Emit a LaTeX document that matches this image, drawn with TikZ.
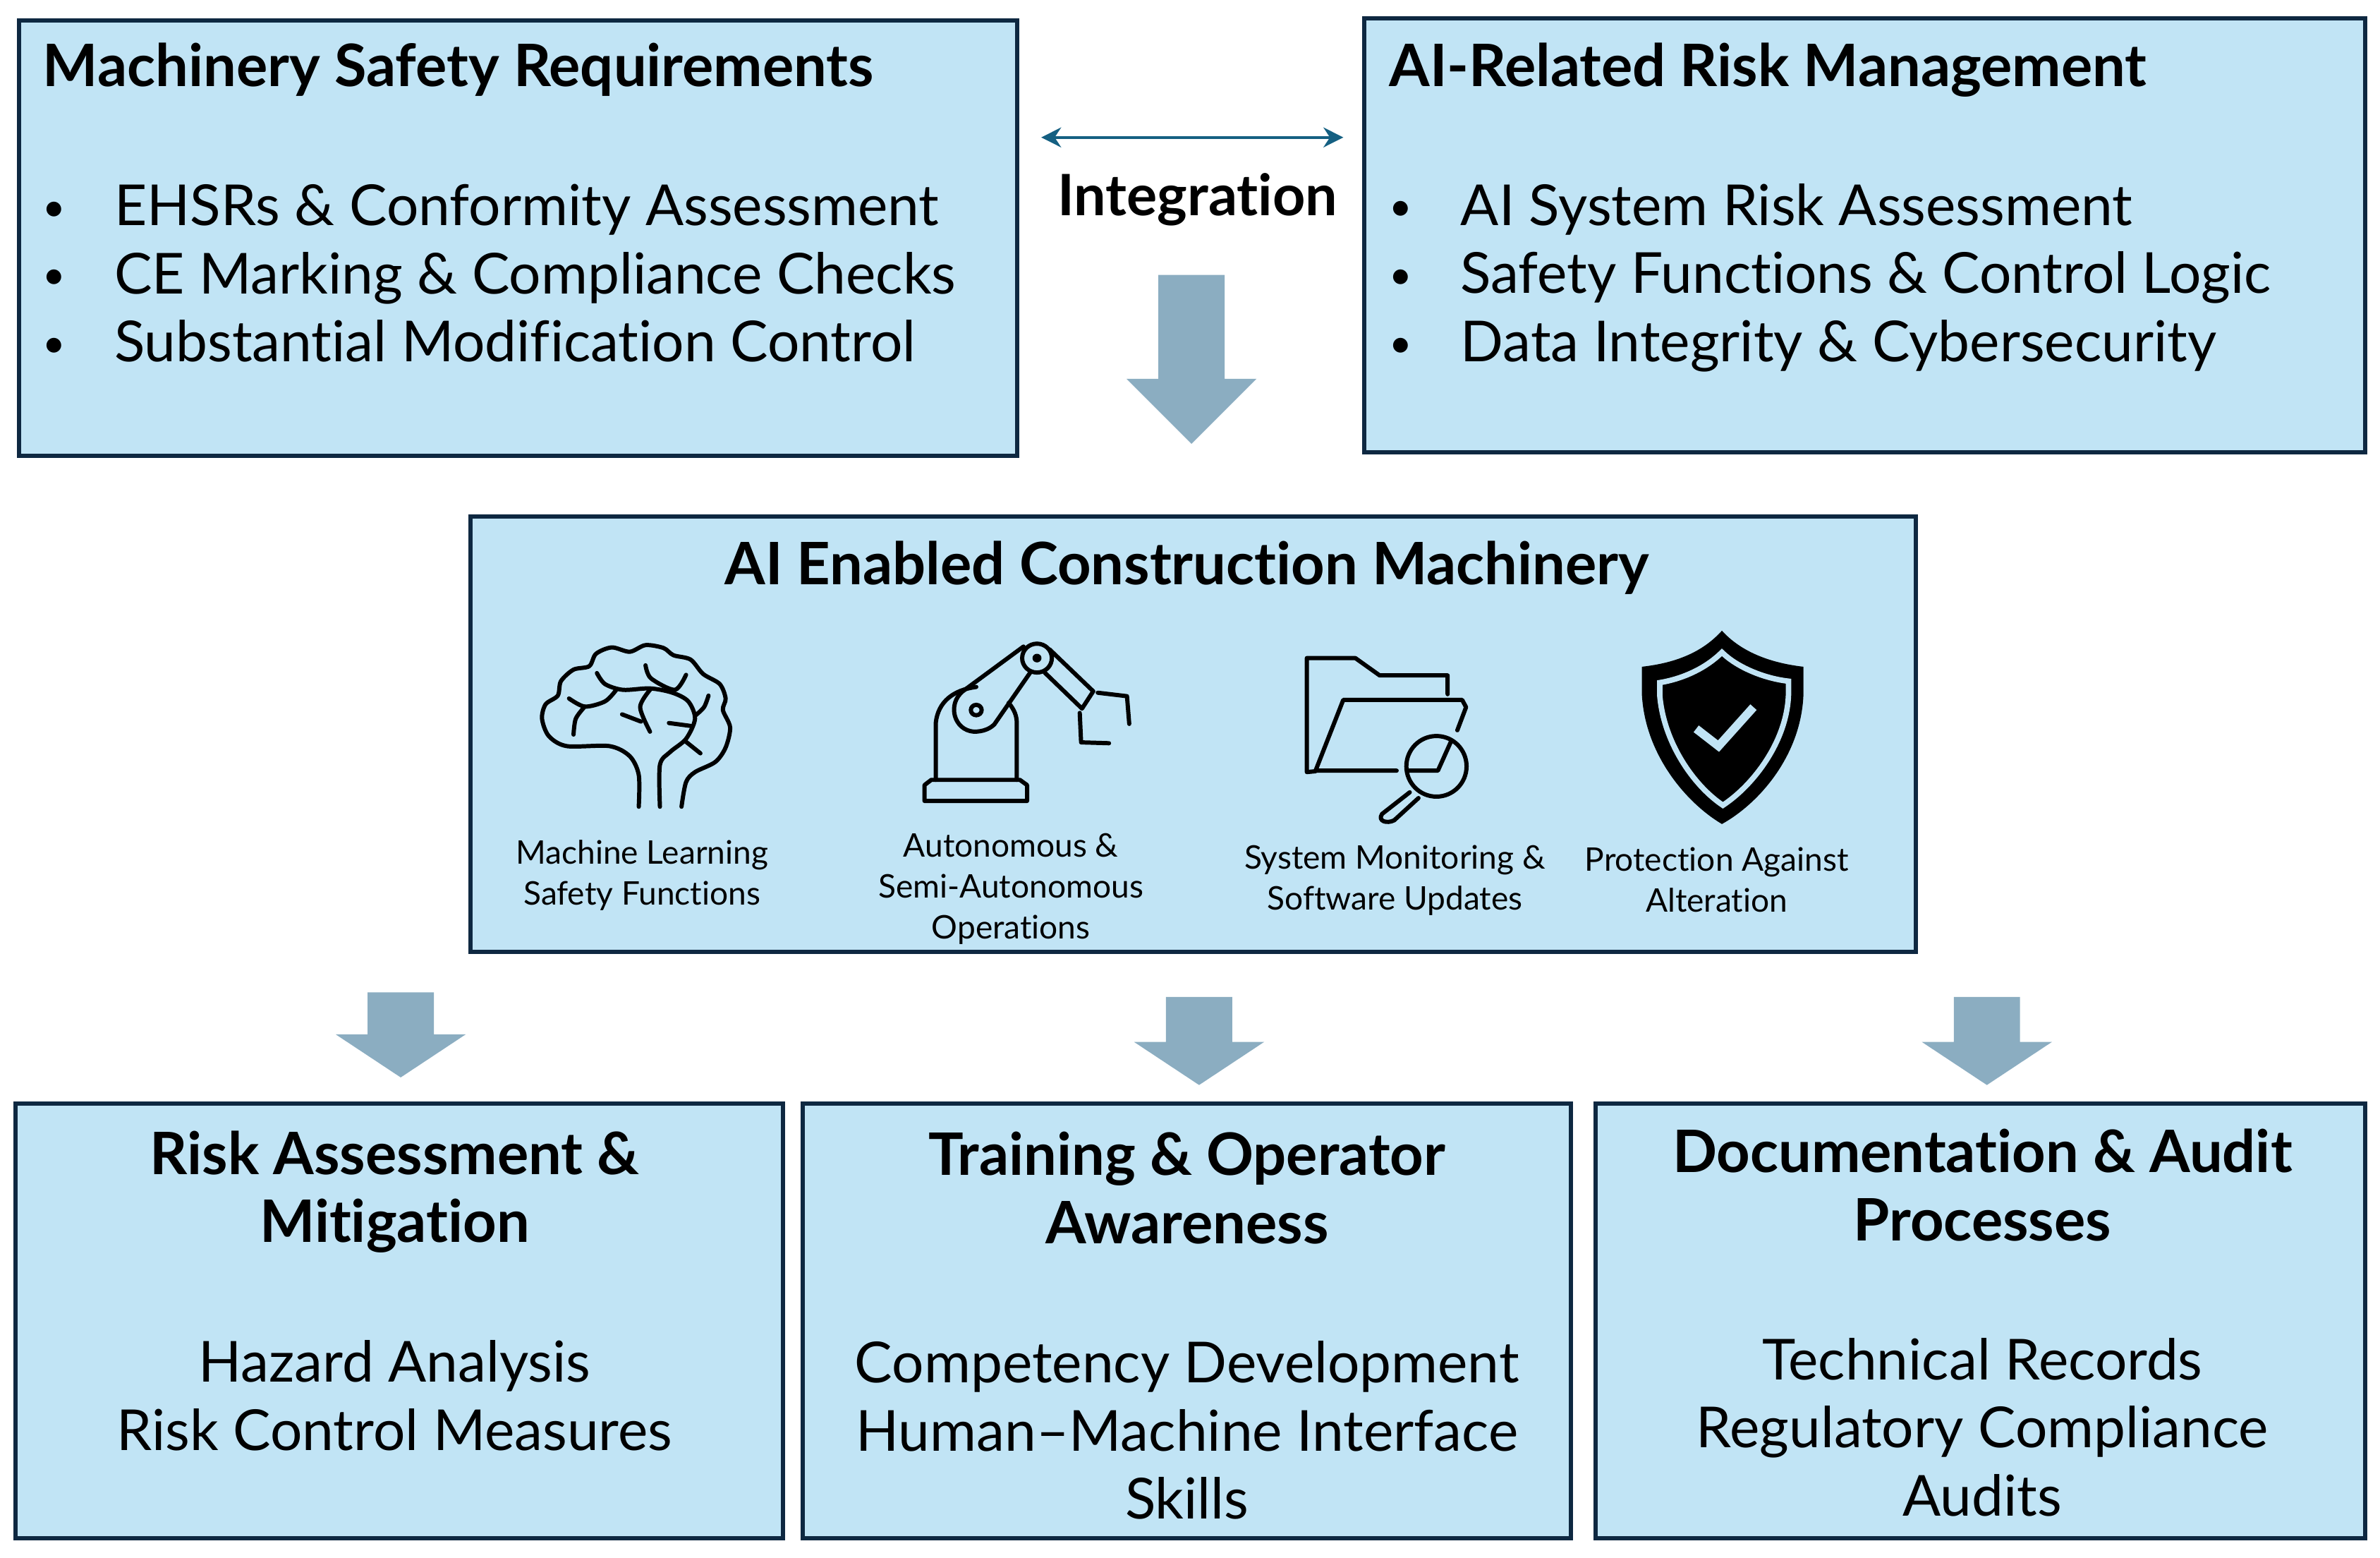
\documentclass[tikz,border=0pt]{standalone}
\usepackage{fontspec}
\setmainfont{Lato}[Ligatures=NoCommon]
\usetikzlibrary{shapes.arrows, arrows.meta, positioning}
\definecolor{boxblue}{HTML}{C1E4F5}
\definecolor{boxnavy}{HTML}{0E2841}
\definecolor{flowblue}{HTML}{8BADC1}
\definecolor{linkblue}{HTML}{156082}
\newcommand{\un}{0.02152cm}
\newcommand{\bul}{\makebox[47\dimexpr\un\relax][l]{\raisebox{1.8pt}{\fontsize{16}{16}\selectfont\textbullet}}}
\tikzset{
  panel/.style={draw=boxnavy, fill=boxblue, line width=1.7pt, inner sep=0pt},
  headtxt/.style={inner sep=0pt, align=center, font=\fontsize{23.6}{27.5}\selectfont\bfseries},
  bodytxt/.style={inner sep=0pt, font=\fontsize{22.8}{27.5}\selectfont},
  smalltxt/.style={inner sep=0pt, align=center, font=\fontsize{13.1}{16.5}\selectfont},
  flowarrow/.style={shape=single arrow, fill=flowblue, inner sep=0pt, rotate=-90, anchor=tip,
    text height=43*\un, text depth=0pt, single arrow head extend=21*\un},
  iconline/.style={draw=black, line width=1.7pt, line cap=round, line join=round}
}

\begin{document}
\begin{tikzpicture}[x=\un, y=-\un]
  \useasboundingbox (0,0) rectangle (1568,1026);

  \node[panel, minimum width=657.5*\un, minimum height=286.5*\un] (msr) at (341.25,156.75) {};
  \node[panel, minimum width=659*\un, minimum height=286*\un] (air) at (1228.5,155) {};
  \node[panel, minimum width=952*\un, minimum height=287*\un] (core) at (786,483.5) {};
  \node[panel, minimum width=506*\un, minimum height=286*\un] (risk) at (263,870) {};
  \node[panel, minimum width=506*\un, minimum height=286*\un] (train) at (782,870) {};
  \node[panel, minimum width=507*\un, minimum height=286*\un] (docs) at (1304.5,870) {};

  \node[headtxt, anchor=west] (msrhead) at (28,46) {Machinery Safety Requirements};
  \node[bodytxt, anchor=west, align=left] (msrlist) at (28,180) {\bul EHSRs \& Conformity Assessment\\ \bul CE Marking \& Compliance Checks\\ \bul Substantial Modification Control};
  \node[headtxt, anchor=west] (airhead) at (915,46) {AI-Related Risk Management};
  \node[bodytxt, anchor=west, align=left] (airlist) at (915,183) {\bul AI System Risk Assessment\\ \bul Safety Functions \& Control Logic\\ \bul Data Integrity \& Cybersecurity};

  \node[headtxt, font=\fontsize{23}{27.5}\selectfont\bfseries] (inttxt) at (789,131.5) {Integration};
  \coordinate (intl) at (686,90.5);
  \coordinate (intr) at (885,90.5);
  \draw[{Stealth[length=8pt,width=8pt]}-{Stealth[length=8pt,width=8pt]}, draw=linkblue, line width=1.2pt] (intl) -- (intr);

  \node[flowarrow, minimum height=111.3*\un, single arrow tip angle=90] (flowtop) at (785,292.8) {};
  \node[flowarrow, minimum height=56*\un, single arrow tip angle=113] (flowrisk) at (264,710) {};
  \node[flowarrow, minimum height=58*\un, single arrow tip angle=113] (flowtrain) at (790,715) {};
  \node[flowarrow, minimum height=58*\un, single arrow tip angle=113] (flowdocs) at (1309,715) {};

  \node[headtxt] (corehead) at (782,374) {AI Enabled Construction Machinery};
  \node[smalltxt] (mltxt) at (423,576.5) {Machine Learning\\Safety Functions};
  \node[smalltxt] (autotxt) at (666,585.5) {Autonomous \&\\Semi-Autonomous\\Operations};
  \node[smalltxt] (montxt) at (919,580) {System Monitoring \&\\Software Updates};
  \node[smalltxt] (prottxt) at (1131,579.5) {Protection Against\\Alteration};

  \node[headtxt] (riskhead) at (260,785) {Risk Assessment \&\\Mitigation};
  \node[bodytxt, align=center] (risklist) at (260,919) {Hazard Analysis\\Risk Control Measures};
  \node[headtxt] (trainhead) at (782,782.5) {Training \& Operator\\Awareness};
  \node[bodytxt, align=center] (trainlist) at (782,942) {Competency Development\\Human--Machine Interface\\Skills};
  \node[headtxt] (docshead) at (1306,780.5) {Documentation \& Audit\\Processes};
  \node[bodytxt, align=center] (docslist) at (1306,940) {Technical Records\\Regulatory Compliance\\Audits};

  \begin{scope}[shift={(306.7,334.6)}, x=0.006379cm, y=-0.004082cm]
    \draw[iconline] plot[smooth] coordinates {(385,1035) (385,925) (365,860) (320,825) (225,825) (185,790) (170,730) (178,680) (205,650) (212,600) (240,560) (275,548) (290,505) (325,483) (365,498) (400,475) (440,485) (462,510) (500,525) (528,575) (565,610) (578,660) (572,700) (588,760) (578,830) (555,880) (510,915) (490,950) (480,1035)};
    \draw[iconline] plot[smooth] coordinates {(432,1035) (432,890) (455,845) (490,800) (510,730) (495,670) (460,640) (410,625) (350,630) (310,610) (292,572)};
    \draw[iconline] plot[smooth] coordinates {(400,545) (412,590) (465,630) (490,578)};
    \draw[iconline] plot[smooth] coordinates {(230,660) (265,688) (310,670) (335,630)};
    \draw[iconline] plot[smooth] coordinates {(265,688) (245,730) (240,785)};
    \draw[iconline] plot[smooth] coordinates {(410,630) (388,690) (410,775)};
    \draw[iconline] plot[smooth] coordinates {(348,715) (390,740)};
    \draw[iconline] plot[smooth] coordinates {(510,720) (530,690) (540,650)};
    \draw[iconline] plot[smooth] coordinates {(452,745) (500,755)};
    \draw[iconline] (490,810) -- (522,850);

    \draw[iconline] (1020,1015) -- (1020,960) -- (1035,942) -- (1232,942) -- (1248,960) -- (1248,1015) -- cycle;
    \draw[iconline] (1045,942) -- (1045,745) .. controls (1050,670) and (1085,630) .. (1135,620);
    \draw[iconline] (1225,942) -- (1225,745) .. controls (1225,720) and (1220,700) .. (1207,675);
    \draw[iconline] (1240,480) -- (1105,635) .. controls (1070,680) and (1085,770) .. (1130,775) .. controls (1150,775) and (1165,765) .. (1175,750) -- (1255,570);
    \draw[iconline] (1135,700) ellipse[x radius=12, y radius=18];
    \draw[iconline] (1270,520) ellipse[x radius=33, y radius=50];
    \fill (1270,520) ellipse[x radius=10, y radius=15];
    \draw[iconline] (1298,490) -- (1395,635) -- (1370,695) -- (1287,570);
    \draw[iconline] (1405,640) -- (1470,652) -- (1475,748);
    \draw[iconline] (1365,710) -- (1368,812) -- (1430,815);
  \end{scope}

  \begin{scope}[shift={(771.4,334.6)}, x=0.006887cm, y=-0.004082cm]
    \draw[iconline] (298,912) -- (280,915) -- (280,520) -- (380,520) -- (430,580) -- (570,580) -- (570,645);
    \draw[iconline] (465,910) -- (298,910) -- (355,665) -- (600,665) -- (608,690) -- (590,770);
    \draw[iconline] (487,910) -- (550,910) -- (578,805);
    \draw[iconline] (547,895) ellipse[x radius=62, y radius=105];
    \draw[iconline] (492,985) -- (435,1060) .. controls (425,1085) and (445,1095) .. (460,1082) -- (510,1005);

    \fill (1135,425) .. controls (1100,490) and (1050,535) .. (970,550) -- (970,640) .. controls (975,850) and (1060,1020) .. (1135,1095) .. controls (1215,1020) and (1300,850) .. (1303,640) -- (1303,550) .. controls (1225,535) and (1170,490) .. (1135,425) -- cycle;
    \draw[draw=boxblue, line width=2.2pt] (1135,500) .. controls (1105,550) and (1060,590) .. (1007,605) -- (1007,650) .. controls (1015,810) and (1075,960) .. (1137,1030) .. controls (1200,960) and (1268,810) .. (1272,650) -- (1272,600) .. controls (1220,590) and (1165,550) .. (1135,500) -- cycle;
    \draw[draw=boxblue, line width=3.4pt] (1082,765) -- (1128,825) -- (1200,690);
  \end{scope}
\end{tikzpicture}
\end{document}
